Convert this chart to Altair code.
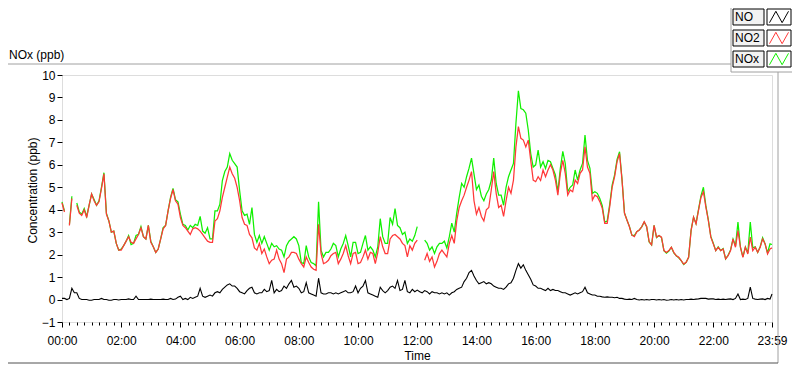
import altair as alt
import pandas as pd

# time index in minutes (5-minute samples, last sample at 23:59)
minutes = list(range(0, 1440, 5)) + [1439]

no2 = [
    4.3, 3.9, None, 3.3, 4.5, None, 4.2, 3.85, 3.75, 4.0, 3.65, 4.2,
    4.7, 4.4, 4.2, 4.35, 4.95, 5.6, 3.8, 3.5, 3.0, 3.05, 2.5, 2.2,
    2.2, 2.4, 2.6, 2.8, 2.55, 2.5, 2.7, 2.9, 3.2, 2.8, 2.7, 3.3,
    2.55, 2.35, 2.1, 2.25, 2.7, 3.15, 3.3, 3.95, 4.5, 4.9, 4.4, 4.25,
    3.65, 3.3, 3.2, 3.05, 2.9, 3.15, 3.2, 3.15, 3.05, 2.9, 2.75, 2.6,
    2.55, 2.55, 3.5, 3.6, 3.95, 4.55, 5.0, 5.45, 5.9, 5.6, 5.4, 5.0,
    4.4, 3.65, 3.35, 3.3, 2.9, 2.75, 2.3, 2.2, 2.5, 2.05, 2.25, 1.9,
    1.6, 1.75, 1.8, 2.2, 1.8, 1.6, 1.2, 1.8, 1.9, 2.1, 2.1, 2.05,
    1.8, 1.6, 1.45, 1.9, 1.65, 1.45, 1.35, 1.3, 3.35, 2.05, 1.6, 1.65,
    1.75, 1.95, 2.05, 2.1, 1.6, 1.8, 2.05, 2.4, 1.95, 1.6, 2.05, 2.1,
    1.6, 1.65, 1.9, 2.2, 1.8, 2.1, 2.05, 1.6, 2.1, 2.8, 2.35, 2.05,
    2.05, 2.7, 2.85, 2.9, 2.8, 2.7, 2.5, 2.4, 1.9, 2.4, 2.2, 2.5,
    2.65, None, None, 1.75, 2.05, 1.7, 1.9, 1.45, 1.7, 2.05, 2.2, 2.05,
    1.9, 2.5, 2.85, 2.5, 3.5, 4.1, 4.4, 4.65, 5.0, 5.32, 5.7, 4.4,
    3.8, 4.1, 3.7, 3.5, 4.0, 4.1, 4.88, 5.7, 4.73, 4.1, 4.2, 3.7,
    4.4, 5.0, 4.73, 5.32, 6.8, 7.7, 7.18, 7.1, 6.8, 7.1, 6.2, 5.32,
    5.25, 5.47, 5.3, 5.77, 5.47, 5.77, 6.0, 5.77, 5.32, 4.65, 5.62, 6.2,
    5.62, 4.65, 4.88, 4.8, 5.32, 5.17, 5.62, 5.77, 6.8, 5.9, 5.62, 4.43,
    4.65, 4.58, 4.36, 4.06, 3.39, 3.39, 4.13, 5.0, 5.47, 6.14, 6.5, 5.32,
    3.84, 3.54, 3.24, 2.87, 2.8, 3.02, 3.1, 3.24, 3.47, 3.24, 2.58, 2.43,
    3.3, 2.78, 2.85, 2.78, 2.18, 2.1, 2.18, 2.33, 2.1, 1.95, 1.88, 1.73,
    1.58, 1.66, 1.88, 3.07, 3.67, 3.37, 3.97, 4.55, 4.8, 4.12, 3.52, 2.78,
    2.48, 2.18, 2.33, 2.18, 2.25, 1.81, 1.95, 2.18, 2.7, 2.33, 3.07, 2.33,
    1.88, 2.33, 2.03, 2.78, 2.18, 2.33, 2.1, 2.33, 2.7, 2.48, 2.03, 2.25,
    2.3,
]

no = [
    0.05, 0.05, 0.0, 0.05, 0.5, 0.3, 0.3, 0.05, 0.0, 0.0, 0.0, -0.03,
    -0.03, 0.0, 0.0, 0.0, 0.05, 0.0, 0.0, -0.03, -0.03, 0.0, 0.0, -0.02,
    0.0, 0.0, 0.0, 0.03, 0.0, 0.0, 0.15, 0.0, 0.0, 0.0, 0.0, 0.0,
    0.02, 0.0, 0.0, 0.0, 0.0, 0.02, 0.0, 0.0, 0.05, 0.0, 0.02, 0.1,
    0.15, 0.0, 0.05, 0.0, 0.1, 0.05, 0.1, 0.15, 0.5, 0.15, 0.1, 0.15,
    0.2, 0.15, 0.3, 0.35, 0.3, 0.45, 0.55, 0.65, 0.7, 0.6, 0.6, 0.5,
    0.35, 0.3, 0.25, 0.4, 0.5, 0.55, 0.3, 0.25, 0.3, 0.3, 0.45, 0.35,
    0.4, 0.85, 0.3, 0.45, 0.35, 0.4, 0.6, 0.5, 0.7, 0.85, 0.55, 0.6,
    0.5, 0.3, 0.35, 0.75, 0.3, 0.25, 0.2, 0.15, 0.95, 0.3, 0.25, 0.25,
    0.3, 0.3, 0.25, 0.3, 0.25, 0.3, 0.35, 0.4, 0.3, 0.3, 0.35, 0.6,
    0.3, 0.5, 0.6, 0.85, 0.3, 0.25, 0.2, 0.15, 0.1, 0.55, 0.4, 0.3,
    0.4, 0.55, 0.6, 0.5, 0.85, 0.4, 0.45, 0.85, 0.35, 0.3, 0.45, 0.35,
    0.42, 0.35, 0.3, 0.4, 0.35, 0.25, 0.35, 0.3, 0.3, 0.25, 0.3, 0.25,
    0.3, 0.2, 0.3, 0.35, 0.45, 0.5, 0.55, 0.8, 0.95, 1.2, 1.3, 1.05,
    0.85, 0.7, 0.75, 0.8, 0.7, 0.75, 0.7, 0.6, 0.55, 0.5, 0.5, 0.45,
    0.55, 0.7, 0.75, 0.95, 1.3, 1.6, 1.4, 1.55, 1.3, 1.1, 0.9, 0.65,
    0.6, 0.5, 0.5, 0.45, 0.4, 0.5, 0.4, 0.45, 0.4, 0.4, 0.35, 0.3,
    0.3, 0.25, 0.2, 0.25, 0.3, 0.25, 0.3, 0.35, 0.55, 0.3, 0.25, 0.2,
    0.2, 0.15, 0.15, 0.12, 0.1, 0.12, 0.1, 0.1, 0.08, 0.1, 0.05, 0.05,
    0.02, 0.0, 0.02, 0.0, 0.05, 0.0, -0.02, 0.0, -0.02, 0.0, -0.02, 0.0,
    0.0, -0.02, 0.0, -0.02, 0.0, -0.03, -0.02, 0.0, -0.02, 0.0, -0.02, 0.0,
    -0.02, 0.0, 0.0, 0.02, 0.0, 0.02, 0.03, 0.05, 0.05, 0.05, 0.02, 0.03,
    0.03, 0.0, 0.02, 0.0, 0.02, 0.0, 0.02, 0.03, 0.0, 0.05, 0.25, 0.0,
    0.02, 0.0, 0.05, 0.55, 0.05, 0.02, 0.0, 0.02, 0.03, 0.0, 0.05, 0.02,
    0.25,
]

nox = [
    4.35, 3.95, None, 3.35, 4.6, None, 4.3, 3.9, 3.8, 4.05, 3.7, 4.2,
    4.7, 4.45, 4.2, 4.4, 5.0, 5.65, 3.85, 3.5, 3.0, 3.05, 2.5, 2.2,
    2.25, 2.4, 2.6, 2.85, 2.45, 2.5, 2.85, 2.9, 3.25, 2.8, 2.7, 3.3,
    2.6, 2.35, 2.1, 2.25, 2.7, 3.2, 3.3, 3.95, 4.55, 4.95, 4.45, 4.35,
    3.8, 3.35, 3.3, 3.1, 3.3, 3.2, 3.35, 3.3, 3.7, 3.05, 2.95, 3.2,
    2.7, 2.7, 3.95, 3.95, 4.25, 5.3, 5.7, 5.9, 6.5, 6.2, 6.05, 5.9,
    4.85, 3.95, 3.75, 3.8, 3.35, 4.1, 2.9, 2.55, 2.85, 2.5, 2.8, 2.5,
    2.2, 2.5, 2.35, 2.4, 2.25, 2.2, 1.9, 2.4, 2.6, 2.7, 2.8, 2.7,
    2.4, 1.65, 1.6, 2.4, 1.9, 1.65, 1.6, 1.5, 4.35, 2.2, 1.9, 2.1,
    2.1, 2.25, 2.5, 2.4, 1.9, 2.25, 2.5, 2.85, 2.4, 1.9, 2.55, 2.55,
    2.05, 2.1, 2.5, 2.85, 2.2, 2.35, 2.2, 1.9, 2.35, 3.6, 2.8, 2.5,
    2.5, 3.65, 3.35, 4.05, 3.3, 3.2, 2.9, 3.0, 2.5, 2.7, 2.6, 2.85,
    3.25, None, None, 2.65, 2.5, 2.2, 2.35, 2.05, 2.35, 2.5, 2.5, 2.6,
    2.3, 2.8, 3.4, 3.0, 3.85, 4.55, 5.17, 5.0, 5.47, 5.85, 6.3, 5.6,
    4.9, 5.1, 4.6, 4.4, 4.7, 4.9, 5.3, 6.3, 5.17, 4.65, 4.65, 4.2,
    5.0, 5.47, 5.77, 6.06, 7.85, 9.3, 8.5, 8.45, 8.3, 7.55, 6.5, 5.9,
    6.0, 6.66, 5.9, 6.14, 5.84, 6.2, 6.14, 5.84, 5.55, 4.8, 5.84, 6.6,
    6.06, 4.8, 5.0, 5.1, 5.77, 5.32, 5.77, 6.06, 7.33, 6.2, 5.84, 4.73,
    4.8, 4.73, 4.5, 4.18, 3.45, 3.5, 4.23, 5.1, 5.55, 6.24, 6.58, 5.37,
    3.86, 3.54, 3.26, 2.87, 2.85, 3.02, 3.1, 3.24, 3.45, 3.24, 2.56, 2.43,
    3.3, 2.76, 2.85, 2.76, 2.18, 2.07, 2.16, 2.33, 2.08, 1.95, 1.86, 1.73,
    1.56, 1.66, 1.88, 3.09, 3.67, 3.39, 4.0, 4.62, 5.0, 4.17, 3.54, 2.81,
    2.51, 2.18, 2.35, 2.18, 2.27, 1.81, 1.97, 2.21, 2.7, 2.38, 3.45, 2.33,
    1.9, 2.33, 2.08, 3.45, 2.3, 2.35, 2.1, 2.35, 2.75, 2.48, 2.08, 2.48,
    2.45,
]

series_names = ["NO", "NO2", "NOx"]
series_colors = ["#000000", "#ff3838", "#10f000"]
y_ticks = list(range(-1, 11))
x_ticks = list(range(0, 1440, 15)) + [1439]

FONT = "Liberation Sans"
W, H = 710, 247

df = pd.DataFrame({"t": minutes, "NO": no, "NO2": no2, "NOx": nox})

major = "datum.value % 120 == 0 || datum.value == 1439"
hh = "(floor(datum.value/60) < 10 ? '0' : '') + floor(datum.value/60)"
mm = "(datum.value % 60 < 10 ? '0' : '') + (datum.value % 60)"
label_expr = f"({major}) ? {hh} + ':' + {mm} : ''"

x_enc = alt.X(
    "t:Q",
    scale=alt.Scale(domain=[0, 1439], nice=False, zero=False),
    axis=alt.Axis(
        values=x_ticks,
        labelExpr=label_expr,
        labelOverlap=False,
        labelFlush=False,
        tickSize={"condition": {"test": major, "value": 5}, "value": 3},
        tickColor="black",
        labelPadding=8,
        labelColor="black",
        labelFontSize=12,
        labelFont=FONT,
        grid=False,
        domain=False,
        title="Time",
        titleFont=FONT,
        titleFontSize=12,
        titleFontWeight="normal",
        titleColor="black",
        titlePadding=4,
    ),
)

y_scale = alt.Scale(domain=[-1, 10], nice=False, zero=False)
y_axis = alt.Axis(
    values=y_ticks,
    tickSize=5,
    tickColor="black",
    labelPadding=2,
    labelColor="black",
    labelFontSize=12,
    labelFont=FONT,
    grid=False,
    domain=False,
    title="Concentration (ppb)",
    titleFont=FONT,
    titleFontSize=12,
    titleFontWeight="normal",
    titleColor="black",
    titleAngle=270,
    titleAlign="center",
    titleBaseline="middle",
    titleX=-30,
    titleY=115,
)

base = alt.Chart(df)
line_nox = base.mark_line(color=series_colors[2], strokeWidth=1.25).encode(
    x=x_enc, y=alt.Y("NOx:Q", scale=y_scale, axis=y_axis)
)
line_no2 = base.mark_line(color=series_colors[1], strokeWidth=1.25).encode(
    x=x_enc, y=alt.Y("NO2:Q", scale=y_scale, axis=y_axis)
)
line_no = base.mark_line(color=series_colors[0], strokeWidth=1.1).encode(
    x=x_enc, y=alt.Y("NO:Q", scale=y_scale, axis=y_axis)
)
main = alt.layer(line_nox, line_no2, line_no)

# legend (boxed labels + sample glyphs) at top right
leg = pd.DataFrame({"name": series_names})
leg_scale = alt.Scale(domain=series_names, range=[-66, -8], paddingInner=0.24, paddingOuter=0)
y_band = alt.Y("name:N", scale=leg_scale, axis=None)
y_mid = alt.Y("name:N", scale=leg_scale, axis=None, bandPosition=0.5)
lbase = alt.Chart(leg)
label_box = lbase.mark_rect(fill="#f2f2f2", stroke="black", strokeWidth=1).encode(
    x=alt.value(671), x2=alt.value(702), y=y_band
)
sample_box = lbase.mark_rect(fill="white", stroke="black", strokeWidth=1).encode(
    x=alt.value(705), x2=alt.value(729), y=y_band
)
label_text = lbase.mark_text(align="left", baseline="middle", font=FONT, fontSize=12, color="black").encode(
    x=alt.value(673), y=y_mid, text="name:N"
)
glyph = lbase.mark_point(
    shape="M-1,0.6L-0.33,-0.6L0.33,0.6L1,-0.6", filled=False, size=361, strokeWidth=1, opacity=1
).encode(
    x=alt.value(717),
    y=y_mid,
    color=alt.Color("name:N", scale=alt.Scale(domain=series_names, range=series_colors), legend=None),
)
legend = alt.layer(label_box, sample_box, label_text, glyph)

# panel decoration and chart caption
one = alt.Chart(pd.DataFrame({"k": [0]}))
gray = "#a0a0a0"
top_line = one.mark_rule(color=gray).encode(x=alt.value(-54), x2=alt.value(669), y=alt.value(-11))
leg_v = one.mark_rule(color=gray).encode(x=alt.value(669), y=alt.value(-67), y2=alt.value(-3))
leg_h = one.mark_rule(color=gray).encode(x=alt.value(669), x2=alt.value(730), y=alt.value(-3))
right_line = one.mark_rule(color=gray).encode(x=alt.value(716), y=alt.value(-3), y2=alt.value(288))
bottom_line = one.mark_rule(color="#505050").encode(x=alt.value(-54), x2=alt.value(716), y=alt.value(288))
caption = one.mark_text(align="left", baseline="middle", font=FONT, fontSize=12, color="black").encode(
    x=alt.value(-53), y=alt.value(-20), text=alt.value("NOx (ppb)")
)
deco = alt.layer(top_line, leg_v, leg_h, right_line, bottom_line, caption)

chart = (
    alt.layer(deco, main, legend)
    .resolve_scale(y="independent", color="independent")
    .properties(
        width=W,
        height=H,
        padding={"left": 54, "top": 67, "right": 20, "bottom": 43},
        autosize=alt.AutoSizeParams(type="none"),
    )
    .configure_view(stroke="black", strokeWidth=1)
    .configure(background="white")
)

chart.save("out.html", embed_options={"renderer": "svg", "actions": False})
